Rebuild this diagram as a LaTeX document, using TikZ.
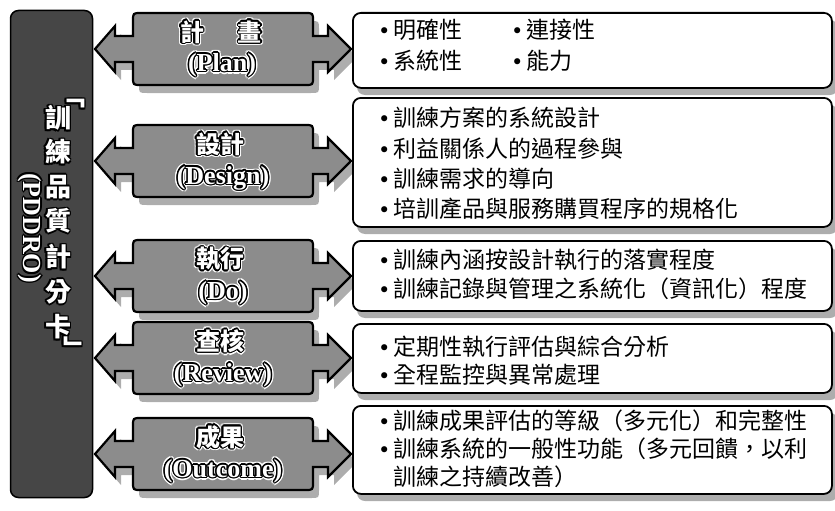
\documentclass[tikz,border=0pt]{standalone}
\usepackage{fontspec}
\setmainfont{Liberation Serif}
\newfontfamily\cjk{Noto Sans CJK TC}
\newfontfamily\dejavu{DejaVu Sans}
\definecolor{arrowgray}{HTML}{8C8C8C}
\definecolor{shadowgray}{HTML}{ADADAD}
\definecolor{bardark}{HTML}{464646}
\tikzset{
  boxstyle/.style={draw=black, line width=1.8pt, rounded corners=8pt, fill=white, inner sep=0pt},
  itm/.style={anchor=west, inner sep=0pt, font=\cjk\fontsize{23}{23}\selectfont, text=black},
  lbl/.style={inner sep=0pt},
}
\newcommand\bul{\makebox[18pt][c]{\dejavu\fontsize{21}{21}\selectfont •}}
\newcommand\arrowrow[2]{%
  \path[#2] (95,#1) -- (115,#1-23) -- (115,#1-13) -- (133,#1-13) -- (133,#1-28)
    .. controls (133,#1-36) .. (141,#1-36) -- (305,#1-36)
    .. controls (313,#1-36) .. (313,#1-28) -- (313,#1-13) -- (328,#1-13) -- (328,#1-23)
    -- (351,#1) -- (328,#1+23) -- (328,#1+13) -- (313,#1+13) -- (313,#1+28)
    .. controls (313,#1+36) .. (305,#1+36) -- (141,#1+36)
    .. controls (133,#1+36) .. (133,#1+28) -- (133,#1+13) -- (115,#1+13) -- (115,#1+23) -- cycle;
}
% white text, black outline, white halo
\newcommand\olab[4]{%
  \foreach \a in {0,30,...,330}{\node[lbl, text=white, shift={(\a:2.8)}] at (#2,#3) {#4};}
  \foreach \a in {0,30,...,330}{\node[lbl, text=black, shift={(\a:1.4)}] at (#2,#3) {#4};}
  \node[lbl, text=white] (#1) at (#2,#3) {#4};
}
% white text, black outline only
\newcommand\olabb[4]{%
  \foreach \a in {0,45,...,315}{\node[lbl, text=black, shift={(\a:1.7)}] at (#2,#3) {#4};}
  \node[lbl, text=white] (#1) at (#2,#3) {#4};
}
\newcommand\tc{\fontsize{24}{24}\selectfont\cjk\bfseries}
\newcommand\te{\fontsize{26}{26}\selectfont\bfseries}
\newcommand\lc{\fontsize{26}{26}\selectfont\cjk\bfseries}
\begin{document}
\begin{tikzpicture}[x=1pt,y=-1pt]
\useasboundingbox (0,0) rectangle (835,511);
% shadows of the right boxes
\foreach \t/\b in {12/87,97/226,240/310,323/392,405/493}
  \fill[shadowgray, rounded corners=8pt] (357,\t+8) rectangle (838,\b+8);
% shadows of the arrows
\foreach \c in {49,161,276,358,454} {\arrowrow{\c}{fill=shadowgray, shift={(6,8)}}}
% left bar
\node[draw=black, line width=1.5pt, fill=bardark, rounded corners=8pt,
      minimum width=82pt, minimum height=487pt, inner sep=0pt] (bar) at (51.5,254) {};
% right boxes
\node[boxstyle, anchor=north west, minimum width=479pt, minimum height=75pt]  (box1) at (352,12) {};
\node[boxstyle, anchor=north west, minimum width=479pt, minimum height=129pt] (box2) at (352,97) {};
\node[boxstyle, anchor=north west, minimum width=479pt, minimum height=70pt]  (box3) at (352,240) {};
\node[boxstyle, anchor=north west, minimum width=479pt, minimum height=69pt]  (box4) at (352,323) {};
\node[boxstyle, anchor=north west, minimum width=479pt, minimum height=88pt]  (box5) at (352,405) {};
% arrows
\foreach \c in {49,161,276,358,454} {\arrowrow{\c}{draw=black, line width=2.2pt, fill=arrowgray, line join=miter}}
% arrow labels
\olab{t1}{221}{32}{\tc 計\hspace{34pt}畫}
\olab{e1}{222}{65}{\te (Plan)}
\olab{t2}{220}{144}{\tc 設計}
\olab{e2}{223}{178}{\te (Design)}
\olab{t3}{220}{259}{\tc 執行}
\olab{e3}{223}{293}{\te (Do)}
\olab{t4}{220}{341}{\tc 查核}
\olab{e4}{223}{375}{\te (Review)}
\olab{t5}{220}{437}{\tc 成果}
\olab{e5}{223}{471}{\te (Outcome)}
% left bar text
\olabb{b0}{72}{104}{\lc ﹁}
\olabb{b1}{58}{118}{\lc 訓}
\olabb{b2}{58}{152}{\lc 練}
\olabb{b3}{58}{187}{\lc 品}
\olabb{b4}{58}{221}{\lc 質}
\olabb{b5}{58}{257}{\lc 計}
\olabb{b6}{58}{292}{\lc 分}
\olabb{b7}{58}{327}{\lc 卡}
\olabb{b8}{76}{348}{\lc ﹂}
\foreach \a in {0,45,...,315}{\node[lbl, text=black, shift={(\a:1.7)}, rotate=-90] at (30,228) {\te (PDDRO)};}
\node[lbl, text=white, rotate=-90] (pddro) at (30,228) {\te (PDDRO)};
% box texts
\node[itm] (r1a) at (375,30) {\bul 明確性};
\node[itm] (r1b) at (508,30) {\bul 連接性};
\node[itm] (r1c) at (375,61) {\bul 系統性};
\node[itm] (r1d) at (508,61) {\bul 能力};
\node[itm] (r2a) at (375,118) {\bul 訓練方案的系統設計};
\node[itm] (r2b) at (375,149) {\bul 利益關係人的過程參與};
\node[itm] (r2c) at (375,179) {\bul 訓練需求的導向};
\node[itm] (r2d) at (375,209) {\bul 培訓產品與服務購買程序的規格化};
\node[itm] (r3a) at (375,260) {\bul 訓練內涵按設計執行的落實程度};
\node[itm] (r3b) at (375,289) {\bul 訓練記錄與管理之系統化（資訊化）程度};
\node[itm] (r4a) at (375,347) {\bul 定期性執行評估與綜合分析};
\node[itm] (r4b) at (375,375) {\bul 全程監控與異常處理};
\node[itm] (r5a) at (375,421) {\bul 訓練成果評估的等級（多元化）和完整性};
\node[itm] (r5b) at (375,449) {\bul 訓練系統的一般性功能（多元回饋，以利};
\node[itm] (r5c) at (393,477) {訓練之持續改善）};
\end{tikzpicture}
\end{document}
